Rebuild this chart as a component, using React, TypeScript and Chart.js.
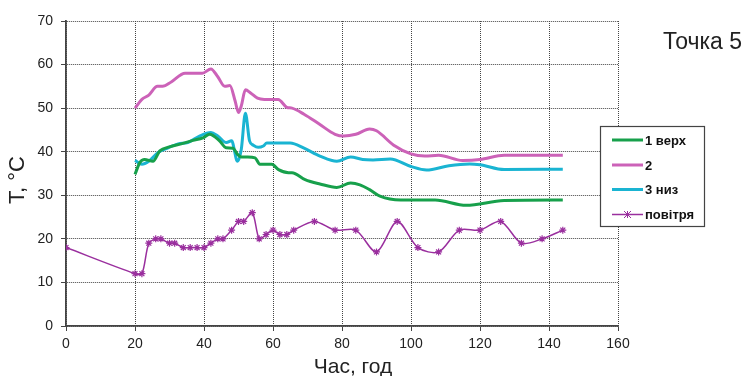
import React, { useEffect, useRef } from "react";
import { Chart, registerables } from "chart.js";

Chart.register(...registerables);

const chartTitle = "Точка 5";
const xTitle = "Час, год";
const yTitle = "T, °C";

const verhLabel = "1 верх";
const verhX = [20, 21.4, 22.8, 25.2, 27.2, 30, 33.4, 36.8, 39.7, 41.6, 44.5, 46.4, 48.4, 49.7, 50.8, 52.7, 54.8, 56.2, 59.6, 61.6, 64.5, 65.5, 69.3, 73.6, 78.5, 82.5, 85.2, 88, 91, 97, 107, 116, 127, 144];
const verhY = [34.8, 37.5, 38.2, 37.8, 40.2, 41.1, 41.8, 42.6, 43.2, 44, 42.5, 40.9, 40.8, 39.4, 38.8, 38.8, 38.6, 37.1, 37.1, 35.9, 35.2, 35.2, 33.6, 32.6, 31.8, 32.8, 32.4, 31.3, 29.8, 28.9, 28.9, 27.7, 28.8, 28.9];

const dvaLabel = "2";
const dvaX = [20, 22, 24, 26.5, 28, 30.5, 34.5, 39.5, 42, 44, 46, 47.5, 49, 50, 50.8, 52, 53.5, 55.5, 57.5, 61.5, 64, 65.5, 69, 73.5, 78, 80.5, 84, 88, 90, 95, 100, 104, 108, 115, 120, 127, 144];
const dvaY = [50, 52, 53, 55, 55, 56, 58, 58, 59, 57.2, 55, 55.2, 51.7, 49, 50.5, 54.2, 53.5, 52.3, 52, 52, 50.2, 50, 48.6, 46.3, 44, 43.6, 44, 45.2, 44.8, 41.5, 39.5, 39, 39.2, 38, 38.2, 39.2, 39.2];

const nyzLabel = "3 низ";
const nyzX = [20, 22, 24, 26.7, 29.6, 32.5, 35.3, 38.7, 42, 44, 46.5, 48, 49.7, 50.8, 52, 53.2, 54.3, 55.7, 57.2, 58.2, 65, 69, 73.6, 78.5, 82.5, 86, 89, 94, 100, 104.5, 111, 117, 120, 127, 144];
const nyzY = [38, 37.1, 37.8, 39.8, 40.9, 41.8, 42.1, 43.6, 44.4, 43.6, 42.1, 42.5, 37.8, 40.5, 48.8, 42.5, 41.5, 41, 41.3, 42, 42, 40.8, 39, 37.8, 38.8, 38.2, 38.1, 38.3, 36.6, 35.8, 36.8, 37.2, 37, 35.9, 36];

const povLabel = "повітря";
const povX = [0, 20, 22, 24, 26, 27.5, 30, 31.5, 34, 36, 38, 40, 42, 44, 45.5, 48, 50, 51.5, 54, 56, 58, 60, 62, 64, 66, 72, 78, 84, 90, 96, 102, 108, 114, 120, 126, 132, 138, 144];
const povY = [18, 12, 12, 19, 20, 20, 19, 19, 18, 18, 18, 18, 19, 20, 20, 22, 24, 24, 26, 20, 21, 22, 21, 21, 22, 24, 22, 22, 17, 24, 18, 17, 22, 22, 24, 19, 20, 22];

const xTicks = [0, 20, 40, 60, 80, 100, 120, 140, 160];
const yTicks = [0, 10, 20, 30, 40, 50, 60, 70];

const colGreen = "#17a04b";
const colPink = "#cc62b8";
const colCyan = "#1ab4d2";
const colPurple = "#9a2f9e";

const FONT = "'Liberation Sans', Arial, sans-serif";

const zip = (xs: number[], ys: number[]) => xs.map((x, i) => ({ x, y: ys[i] }));

const overlayPlugin = {
  id: "overlay",
  afterDraw(chart: any) {
    const ctx = chart.ctx;
    ctx.save();
    ctx.fillStyle = "#222";
    ctx.font = `23px ${FONT}`;
    ctx.textAlign = "left";
    ctx.textBaseline = "alphabetic";
    ctx.fillText(chartTitle, 663, 49);
    ctx.font = `21px ${FONT}`;
    ctx.textAlign = "center";
    ctx.fillText(xTitle, 353, 373);
    ctx.save();
    ctx.translate(18, 180);
    ctx.rotate(-Math.PI / 2);
    ctx.textBaseline = "middle";
    ctx.font = `22px ${FONT}`;
    ctx.fillText(yTitle, 0, 0);
    ctx.restore();
    // legend
    const bx = 600.5, by = 126.5, bw = 104, bh = 100;
    ctx.fillStyle = "#ffffff";
    ctx.fillRect(bx, by, bw, bh);
    ctx.strokeStyle = "#444";
    ctx.lineWidth = 1.2;
    ctx.strokeRect(bx, by, bw, bh);
    const ys = [140, 165, 189.5, 214.5];
    chart.data.datasets.forEach((ds: any, i: number) => {
      const y = ys[i];
      ctx.strokeStyle = ds.borderColor;
      ctx.lineWidth = ds.borderWidth;
      ctx.beginPath();
      ctx.moveTo(612, y);
      ctx.lineTo(643, y);
      ctx.stroke();
      if (ds.pointRadius > 0) {
        ctx.lineWidth = 1;
        const r = 3.5;
        ctx.beginPath();
        ctx.moveTo(627.5 - r, y - r); ctx.lineTo(627.5 + r, y + r);
        ctx.moveTo(627.5 - r, y + r); ctx.lineTo(627.5 + r, y - r);
        ctx.moveTo(627.5, y - r); ctx.lineTo(627.5, y + r);
        ctx.stroke();
      }
      ctx.fillStyle = "#111";
      ctx.font = `bold 13px ${FONT}`;
      ctx.textAlign = "left";
      ctx.textBaseline = "middle";
      ctx.fillText(ds.label, 645, y + 1);
    });
    ctx.restore();
  },
};

export default function App() {
  const ref = useRef<HTMLCanvasElement | null>(null);
  useEffect(() => {
    if (!ref.current) return;
    const chart = new Chart(ref.current, {
      type: "line",
      data: {
        datasets: [
          { label: verhLabel, data: zip(verhX, verhY), borderColor: colGreen, backgroundColor: colGreen, borderWidth: 3, pointRadius: 0, cubicInterpolationMode: "monotone" },
          { label: dvaLabel, data: zip(dvaX, dvaY), borderColor: colPink, backgroundColor: colPink, borderWidth: 3, pointRadius: 0, cubicInterpolationMode: "monotone" },
          { label: nyzLabel, data: zip(nyzX, nyzY), borderColor: colCyan, backgroundColor: colCyan, borderWidth: 3, pointRadius: 0, cubicInterpolationMode: "monotone" },
          { label: povLabel, data: zip(povX, povY), borderColor: colPurple, backgroundColor: colPurple, borderWidth: 1.5, pointRadius: 3.5, pointStyle: "star", pointBorderWidth: 1.2, pointBorderColor: colPurple, tension: 0.3 },
        ] as any,
      },
      options: {
        animation: false,
        responsive: true,
        maintainAspectRatio: false,
        layout: { padding: { left: 0, top: 21, right: 126, bottom: 0 } },
        plugins: { legend: { display: false }, tooltip: { enabled: false }, title: { display: false } },
        scales: {
          x: {
            type: "linear",
            min: 0,
            max: 160,
            afterBuildTicks: (s: any) => { s.ticks = xTicks.map((v) => ({ value: v })); },
            afterFit: (s: any) => { s.height = 50; },
            ticks: { color: "#222", font: { family: FONT, size: 14 }, padding: 5, maxRotation: 0 },
            grid: { color: "#444", lineWidth: 1, tickLength: 5, tickColor: "#444", tickBorderDash: [] },
            border: { display: true, color: "#444", width: 1.8, dash: [1, 1] },
          },
          y: {
            type: "linear",
            min: 0,
            max: 70,
            afterBuildTicks: (s: any) => { s.ticks = yTicks.map((v) => ({ value: v })); },
            afterFit: (s: any) => { s.width = 66; },
            ticks: { color: "#222", font: { family: FONT, size: 14 }, padding: 8 },
            grid: { color: "#444", lineWidth: 1, tickLength: 5, tickColor: "#444", tickBorderDash: [] },
            border: { display: true, color: "#444", width: 1.8, dash: [1, 1] },
          },
        },
      } as any,
      plugins: [overlayPlugin],
    });
    return () => chart.destroy();
  }, []);
  return (
    <div style={{ position: "fixed", left: 0, top: 0, width: 744, height: 376, background: "#fff" }}>
      <canvas ref={ref} />
    </div>
  );
}
